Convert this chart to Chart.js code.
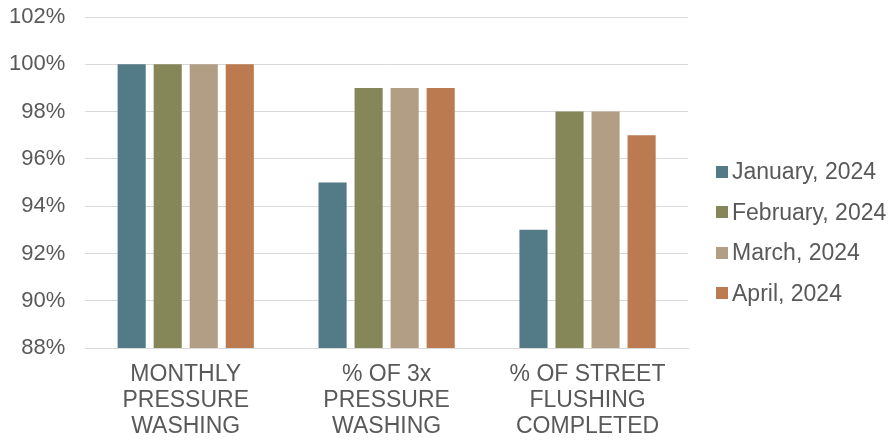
<!DOCTYPE html>
<html>
<head>
<meta charset="utf-8">
<script src="https://cdn.jsdelivr.net/npm/chart.js@4"></script>
<style>
  html, body { margin: 0; padding: 0; background: #ffffff; }
  #wrap { width: 890px; height: 440px; }
</style>
</head>
<body>
<div id="wrap"><canvas id="c" width="890" height="440"></canvas></div>
<script>
// Categories (multi-line axis labels)
const categories = [
  ["MONTHLY", "PRESSURE", "WASHING"],
  ["% OF 3x", "PRESSURE", "WASHING"],
  ["% OF STREET", "FLUSHING", "COMPLETED"]
];

// Series values, percent
const seriesNames = ["January, 2024", "February, 2024", "March, 2024", "April, 2024"];
const january  = [100, 95, 93];
const february = [100, 99, 98];
const march    = [100, 99, 98];
const april    = [100, 99, 97];

// Y-axis ticks
const yTicks = [88, 90, 92, 94, 96, 98, 100, 102];

const colors = ["#537A87", "#868758", "#B29E84", "#BB7A50"];
const values = [january, february, march, april];
const FONT = "'Liberation Sans', Arial, sans-serif";
const TEXT = "#595959";

const datasets = seriesNames.map((name, i) => ({
  label: name,
  data: values[i],
  backgroundColor: colors[i],
  borderWidth: 0,
  categoryPercentage: 0.7175,
  barPercentage: 0.78
}));

// Legend drawn at the right side, vertically stacked with compact swatch spacing
const sideLegend = {
  id: "sideLegend",
  afterDraw(chart) {
    const ctx = chart.ctx;
    const x0 = chart.chartArea.right + 28;
    const yStart = 172, step = 40.4, box = 12;
    ctx.save();
    ctx.font = "23px " + FONT;
    ctx.textBaseline = "middle";
    ctx.textAlign = "left";
    chart.data.datasets.forEach((ds, i) => {
      const y = yStart + i * step;
      ctx.fillStyle = ds.backgroundColor;
      ctx.fillRect(x0, Math.round(y - box / 2), box, box);
      ctx.fillStyle = TEXT;
      ctx.fillText(ds.label, x0 + box + 4, y + 1);
    });
    ctx.restore();
  }
};

Chart.defaults.font.family = FONT;
Chart.defaults.color = TEXT;

new Chart(document.getElementById("c"), {
  type: "bar",
  data: { labels: categories, datasets },
  plugins: [sideLegend],
  options: {
    responsive: false,
    animation: false,
    layout: { padding: { left: -11, right: 202, top: 17, bottom: -14 } },
    plugins: {
      legend: { display: false },
      tooltip: { enabled: false }
    },
    scales: {
      x: {
        grid: { display: false, drawTicks: false },
        border: { display: true, color: "#d9d9d9", width: 1 },
        ticks: {
          color: TEXT,
          font: { size: 23, lineHeight: 1.13 },
          padding: 14,
          maxRotation: 0,
          autoSkip: false
        }
      },
      y: {
        min: yTicks[0],
        max: yTicks[yTicks.length - 1],
        afterBuildTicks: (axis) => { axis.ticks = yTicks.map(v => ({ value: v })); },
        afterFit: (axis) => { axis.paddingTop = 0; },
        grid: { color: "#d9d9d9", drawTicks: false },
        border: { display: false },
        ticks: {
          color: TEXT,
          font: { size: 22 },
          padding: 20,
          callback: (v) => v + "%"
        }
      }
    }
  }
});
</script>
</body>
</html>
